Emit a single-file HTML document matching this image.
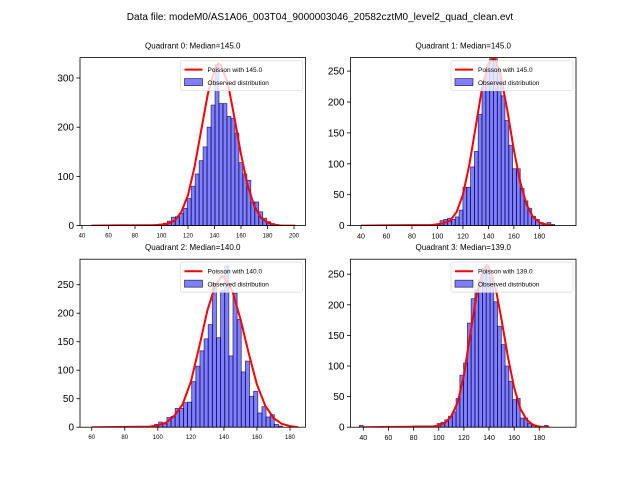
<!DOCTYPE html>
<html><head><meta charset="utf-8"><style>
body{margin:0;background:#fff;}
svg{display:block;font-family:"Liberation Sans","DejaVu Sans",sans-serif;}
</style></head><body>
<svg id="chart" width="640" height="480" viewBox="0 0 640 480">
<rect width="640" height="480" fill="#fff"/>
<text x="320" y="20" text-anchor="middle" font-size="10">Data file: modeM0/AS1A06_003T04_9000003046_20582cztM0_level2_quad_clean.evt</text>
</svg>
<script>
// ---- data ----
const titles = ["Quadrant 0: Median=145.0","Quadrant 1: Median=145.0","Quadrant 2: Median=140.0","Quadrant 3: Median=139.0"];
const lambdas = ["145.0","145.0","140.0","139.0"];
const binStart = [95.4, 99.0, 98.0, 98.8];
const binWidth = [3.0, 3.0, 2.5, 3.0];
const q0Counts = [2,3,5,9,17,18,25,35,55,80,105,132,160,200,245,327,248,248,222,218,188,128,105,92,48,48,28,15,8,4,2];
const q1Counts = [3,8,10,12,10,14,25,62,62,95,120,180,225,255,270,270,252,210,170,130,92,92,60,40,28,15,10,5,2,5,2];
const q2Counts = [5,9,6,17,19,33,33,43,44,80,107,134,155,180,250,157,240,283,125,235,189,97,116,54,63,25,36,18,22,5,2];
const q3Counts = [6,8,12,18,25,47,85,105,170,210,225,240,260,260,245,205,165,135,100,75,45,47,15,15,6,3,2];
const q3Extra = [[38.4,3],[81,2],[84,2],[87,2],[90,2],[93,2],[96,2],[185.5,3]];
const curveX0 = [47,95,100,105,110,115,120,125,130,135,140,143,145,150,155,160,165,170,175,180,185,190,201];
const curveY0 = [0,1,2,4,10,28,62,120,195,268,318,330,325,290,220,145,82,40,16,6,2,0,0];
const curveX1 = [40,95,100,105,110,115,120,125,130,135,140,144,145,150,155,160,165,170,175,180,185,190];
const curveY1 = [0,1,2,4,8,22,50,98,160,222,262,272,270,240,185,122,70,34,14,5,2,0];
const curveX2 = [60,95,100,105,110,115,120,125,130,135,139,140,145,150,155,160,165,170,175,180,185];
const curveY2 = [0,1,3,8,20,40,80,140,205,250,265,264,240,190,130,75,38,16,6,2,0];
const curveX3 = [40,95,100,105,110,115,120,125,130,135,138,140,145,150,155,160,165,170,175,180,188];
const curveY3 = [0,1,3,7,18,40,85,150,215,255,265,262,230,175,115,65,30,12,4,1,0];
const xTicks = [[40,60,80,100,120,140,160,180,200],[40,60,80,100,120,140,160,180],[60,80,100,120,140,160,180],[40,60,80,100,120,140,160,180]];
const yTicks = [[0,100,200,300],[0,50,100,150,200,250],[0,50,100,150,200,250],[0,50,100,150,200,250]];
// ---- layout ----
const panels = [
 {x0:80,x1:305.5,y0:57.6,y1:225.6,xa:40,xpa:82,xs:1.325,ys:0.492,fs:6},
 {x0:350.5,x1:576,y0:57.6,y1:225.6,xa:40,xpa:361,xs:1.274,ys:0.618,fs:7},
 {x0:80,x1:305.5,y0:259.2,y1:427.2,xa:60,xpa:91.7,xs:1.6525,ys:0.57,fs:6},
 {x0:350.5,x1:576,y0:259.2,y1:427.2,xa:40,xpa:363.3,xs:1.257,ys:0.612,fs:7}
];
const counts=[q0Counts,q1Counts,q2Counts,q3Counts];
const cx=[curveX0,curveX1,curveX2,curveX3], cy=[curveY0,curveY1,curveY2,curveY3];
const NS="http://www.w3.org/2000/svg", svg=document.getElementById('chart');
function mk(tag,attrs,parent){const e=document.createElementNS(NS,tag);for(const k in attrs)e.setAttribute(k,attrs[k]);(parent||svg).appendChild(e);return e;}
panels.forEach((p,i)=>{
 const g=mk('g',{});
 
 
 const X=v=>p.xpa+(v-p.xa)*p.xs, Y=v=>p.y1-v*p.ys;
 const clipId='c'+i;
 const cp=mk('clipPath',{id:clipId},g);mk('rect',{x:p.x0,y:p.y0,width:p.x1-p.x0,height:p.y1-p.y0},cp);
 const bars=[];
 counts[i].forEach((c,k)=>bars.push([binStart[i]+k*binWidth[i],c]));
 if(i===3) q3Extra.forEach(b=>bars.push([b[0]-binWidth[i]/2,b[1]]));
 bars.forEach(([s,c],k)=>{
  const r=mk('rect',{x:X(s),y:Y(c),width:binWidth[i]*p.xs,height:c*p.ys,fill:'rgba(0,0,255,0.5)',stroke:'rgba(0,0,60,0.7)','stroke-width':0.8,'clip-path':'url(#'+clipId+')'},g);
  
  
 });
 const pts=cx[i].map((v,k)=>X(v).toFixed(1)+','+Y(cy[i][k]).toFixed(1)).join(' ');
 const pl=mk('polyline',{points:pts,fill:'none',stroke:'#ff0000','stroke-width':2,'stroke-linejoin':'round','clip-path':'url(#'+clipId+')'},g);
 
 
 mk('rect',{x:p.x0,y:p.y0,width:p.x1-p.x0,height:p.y1-p.y0,fill:'none',stroke:'#000','stroke-width':0.8},g);
 const t=mk('text',{x:(p.x0+p.x1)/2,y:p.y0-9,'text-anchor':'middle','font-size':8},g);t.textContent=titles[i];
 
 
 xTicks[i].forEach(v=>{const x=X(v);mk('line',{x1:x,x2:x,y1:p.y1,y2:p.y1+3.5,stroke:'#000','stroke-width':0.8},g);
  const tl=mk('text',{x:x,y:p.y1+6+p.fs,'text-anchor':'middle','font-size':p.fs},g);tl.textContent=v;
  
  });
 yTicks[i].forEach(v=>{const y=Y(v);mk('line',{x1:p.x0-3.5,x2:p.x0,y1:y,y2:y,stroke:'#000','stroke-width':0.8},g);
  const tl=mk('text',{x:p.x0-6,y:y+3.5,'text-anchor':'end','font-size':10},g);tl.textContent=v;
  
  });
 const lg=mk('g',{},g);
 
 
 const lx=p.x1-125,ly=p.y0+3;
 mk('rect',{x:lx,y:ly,width:122,height:30,fill:'rgba(255,255,255,0.8)',stroke:'#ddd','stroke-width':0.8,rx:2},lg);
 mk('line',{x1:lx+4,x2:lx+22,y1:ly+9,y2:ly+9,stroke:'#ff0000','stroke-width':2},lg);
 const l1=mk('text',{x:lx+27,y:ly+11.5,'font-size':6.5},lg);l1.textContent='Poisson with '+lambdas[i];
 mk('rect',{x:lx+4,y:ly+18,width:18,height:7,fill:'rgba(0,0,255,0.5)',stroke:'rgba(0,0,60,0.7)','stroke-width':0.8},lg);
 const l2=mk('text',{x:lx+27,y:ly+24.5,'font-size':6.5},lg);l2.textContent='Observed distribution';
});
</script>
</body></html>
